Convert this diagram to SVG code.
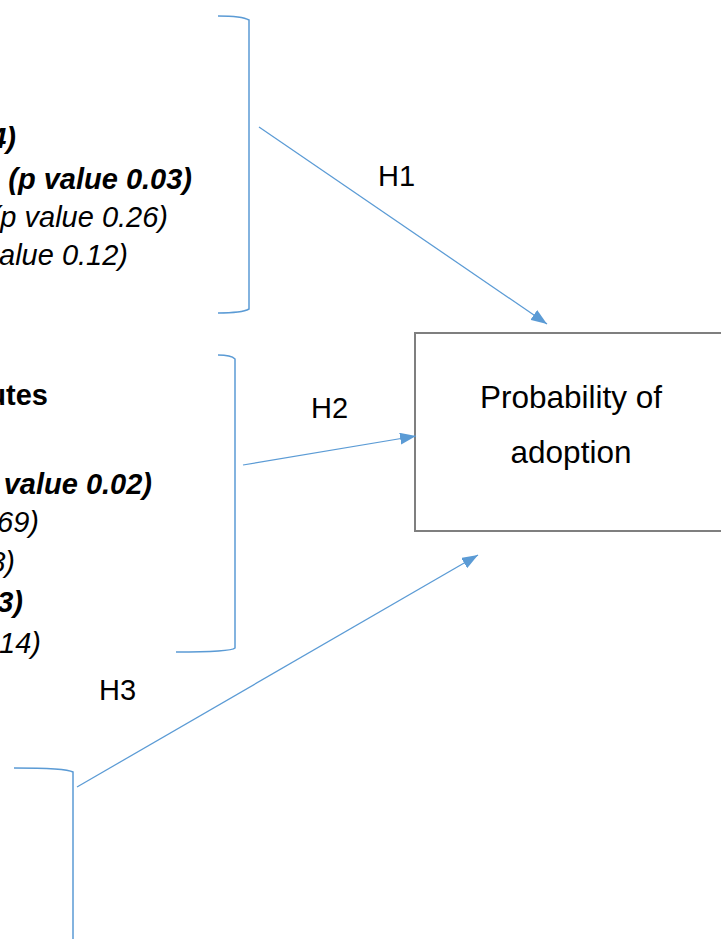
<svg xmlns="http://www.w3.org/2000/svg" width="721" height="939" viewBox="0 0 721 939">
  <style>
    .bracket { fill: none; stroke: #5b9bd5; stroke-width: 1.5; }
    .conn { fill: none; stroke: #5b9bd5; stroke-width: 1.25; }
    .lbl { font-family: "Liberation Sans", Arial, sans-serif; font-size: 29px; fill: #000; }
    .var { font-family: "Liberation Sans", Arial, sans-serif; font-size: 29px; fill: #000; font-style: italic; text-anchor: end; }
    .sig { font-weight: bold; }
    .head { font-family: "Liberation Sans", Arial, sans-serif; font-size: 29px; font-weight: bold; fill: #000; text-anchor: end; }
    .box { fill: #fff; stroke: #7f7f7f; stroke-width: 2; }
    .boxtxt { font-family: "Liberation Sans", Arial, sans-serif; font-size: 31.5px; fill: #000; text-anchor: middle; }
  </style>
  <defs>
    <marker id="arrow" viewBox="0 0 16 12" refX="16" refY="6" markerWidth="16" markerHeight="12" markerUnits="userSpaceOnUse" orient="auto">
      <path d="M0,0 L16,6 L0,12 z" fill="#5b9bd5"/>
    </marker>
  </defs>
  <rect width="721" height="939" fill="#fff"/>

  <!-- first factor group -->
  <g id="group1">
    <text class="var sig" x="16" y="148">4)</text>
    <text class="var sig" x="192" y="189">(p value 0.03)</text>
    <text class="var" x="168" y="227">(p value 0.26)</text>
    <text class="var" x="128" y="265">alue 0.12)</text>
    <path class="bracket" d="M218,16 Q242,16 249,20 L249,309 Q242,313 218,313"/>
  </g>

  <!-- second factor group -->
  <g id="group2">
    <text class="head" x="48" y="405">utes</text>
    <text class="var sig" x="152" y="494">value 0.02)</text>
    <text class="var" x="39" y="532">69)</text>
    <text class="var" x="15" y="572">8)</text>
    <text class="var sig" x="23" y="612">3)</text>
    <text class="var" x="41" y="653">14)</text>
    <path class="bracket" d="M218,355 Q231,355 235,359 L235,648 Q231,652 176,652"/>
  </g>

  <!-- third factor group -->
  <g id="group3">
    <path class="bracket" d="M14,768 Q66,768 73,772 L73,939"/>
  </g>

  <!-- outcome -->
  <g id="outcome">
    <rect class="box" x="415" y="333" width="320" height="198"/>
    <text class="boxtxt" x="571" y="408">Probability of</text>
    <text class="boxtxt" x="571" y="463">adoption</text>
  </g>

  <!-- hypothesis arrows -->
  <g id="connectors">
    <line class="conn" x1="259" y1="127" x2="547" y2="324" marker-end="url(#arrow)"/>
    <line class="conn" x1="243" y1="465" x2="416" y2="436" marker-end="url(#arrow)"/>
    <line class="conn" x1="77" y1="787" x2="478" y2="555" marker-end="url(#arrow)"/>
    <text class="lbl" x="378" y="186">H1</text>
    <text class="lbl" x="311" y="418">H2</text>
    <text class="lbl" x="99" y="700">H3</text>
  </g>
</svg>
